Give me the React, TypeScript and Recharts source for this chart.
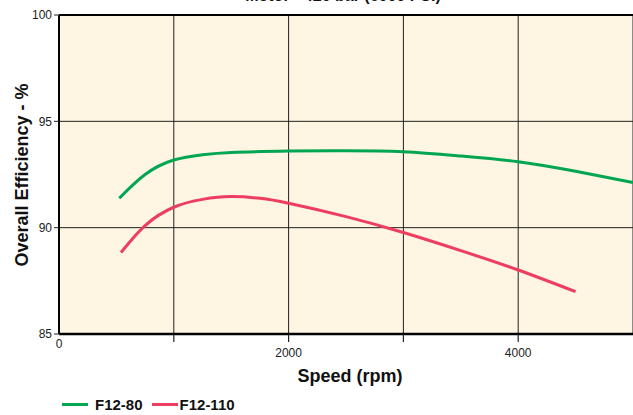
import { CartesianGrid, Line, LineChart, ReferenceLine, XAxis, YAxis } from "recharts";

const speedTicks = [0, 1000, 2000, 3000, 4000, 5000];
const labelledSpeeds = [0, 2000, 4000];
const efficiencyTicks = [85, 90, 95, 100];

// F12-80 (green)
const f1280Speed = [525, 750, 1000, 1250, 1500, 2000, 2500, 3000, 3500, 4000, 4500, 5000];
const f1280Eff = [91.38, 92.5, 93.18, 93.43, 93.54, 93.6, 93.62, 93.57, 93.37, 93.1, 92.65, 92.12];

// F12-110 (red)
const f12110Speed = [540, 750, 1000, 1250, 1500, 1750, 2000, 2500, 3000, 3500, 4000, 4500];
const f12110Eff = [88.83, 90.1, 90.96, 91.33, 91.46, 91.38, 91.15, 90.52, 89.77, 88.92, 88.01, 86.99];

const f1280 = f1280Speed.map((s, i) => ({ speed: s, eff: f1280Eff[i] }));
const f12110 = f12110Speed.map((s, i) => ({ speed: s, eff: f12110Eff[i] }));

const GREEN = "#00a651";
const RED = "#ee3e60";
const FONT = "'Liberation Sans', Arial, sans-serif";

const SpeedTick = (props: { x?: number; y?: number; payload?: { value: number } }) => {
  const { x = 0, y = 0, payload } = props;
  const v = payload?.value ?? 0;
  return (
    <g>
      {v > 0 && v < 5000 && <line x1={x} x2={x} y1={y} y2={y + 8} stroke="#222" strokeWidth={1.2} />}
      {labelledSpeeds.includes(v) && (
        <text x={x} y={v === 0 ? y + 14 : y + 23} textAnchor="middle" fontSize={12} fill="#222" fontFamily={FONT}>
          {v}
        </text>
      )}
    </g>
  );
};

export default function App() {
  return (
    <div style={{ position: "absolute", left: 0, top: 0, width: 633, height: 415, fontFamily: FONT, overflow: "hidden" }}>
      <div
        style={{
          position: "absolute",
          left: 243,
          top: -13,
          width: 200,
          textAlign: "center",
          fontWeight: "bold",
          fontSize: 16,
          whiteSpace: "nowrap",
          color: "#111",
        }}
      >
        Motor - 420 bar (6000 PSI)
      </div>
      <LineChart width={633} height={415} margin={{ top: 15, right: 0, left: 0, bottom: 51 }}>
        <CartesianGrid fill="#fef5e3" stroke="#222" strokeWidth={1} />
        <XAxis
          type="number"
          dataKey="speed"
          domain={[0, 5000]}
          ticks={speedTicks}
          height={30}
          tickSize={0}
          tickMargin={0}
          tick={<SpeedTick />}
          axisLine={{ stroke: "#000", strokeWidth: 2.5 }}
          allowDataOverflow
        />
        <YAxis
          type="number"
          domain={[85, 100]}
          ticks={efficiencyTicks}
          width={59}
          tickSize={5}
          tickMargin={2}
          tick={{ fontSize: 12, fill: "#222", fontFamily: FONT }}
          tickLine={{ stroke: "#222" }}
          axisLine={{ stroke: "#000", strokeWidth: 2 }}
        />
        <ReferenceLine y={100} stroke="#000" strokeWidth={2} />
        <Line data={f1280} dataKey="eff" type="natural" stroke={GREEN} strokeWidth={3} dot={false} isAnimationActive={false} />
        <Line data={f12110} dataKey="eff" type="natural" stroke={RED} strokeWidth={3} dot={false} isAnimationActive={false} />
      </LineChart>
      <div
        style={{
          position: "absolute",
          left: 22,
          top: 175,
          transform: "translate(-50%, -50%) rotate(-90deg)",
          fontWeight: "bold",
          fontSize: 18,
          whiteSpace: "nowrap",
          color: "#111",
        }}
      >
        Overall Efficiency - %
      </div>
      <div
        style={{
          position: "absolute",
          left: 350,
          top: 376,
          transform: "translate(-50%, -50%)",
          fontWeight: "bold",
          fontSize: 18,
          whiteSpace: "nowrap",
          color: "#111",
        }}
      >
        Speed (rpm)
      </div>
      <div style={{ position: "absolute", left: 62, top: 396, display: "flex", alignItems: "center", fontWeight: "bold", fontSize: 15, color: "#111" }}>
        <span style={{ display: "inline-block", width: 26, height: 3, background: GREEN, marginRight: 7 }} />
        <span style={{ marginRight: 9 }}>F12-80</span>
        <span style={{ display: "inline-block", width: 26, height: 3, background: RED, marginRight: 2 }} />
        <span>F12-110</span>
      </div>
    </div>
  );
}
